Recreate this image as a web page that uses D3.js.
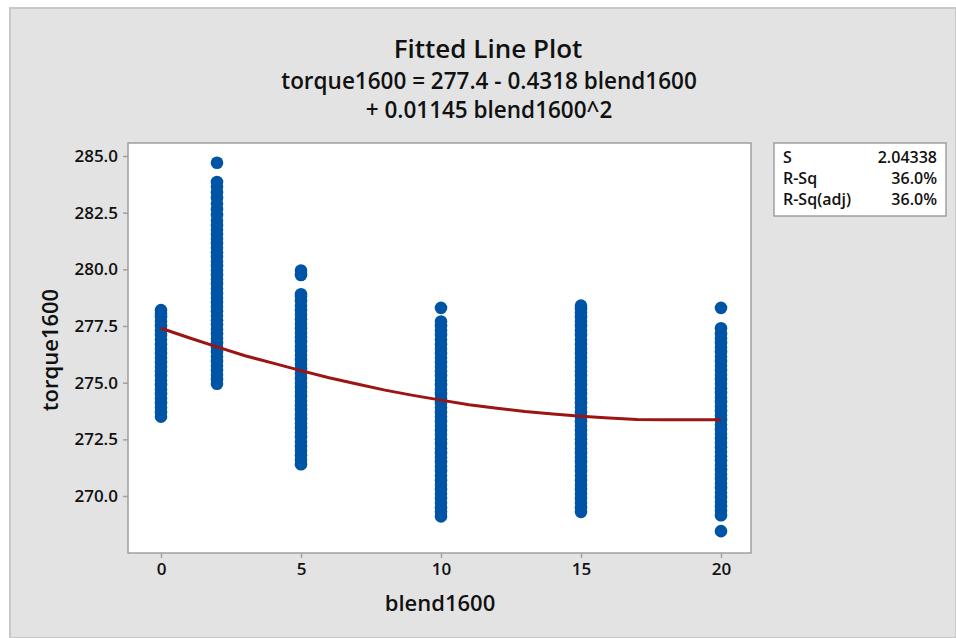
<!DOCTYPE html>
<html>
<head>
<meta charset="utf-8">
<script src="https://cdn.jsdelivr.net/npm/d3@7"></script>
<style>
  html, body { margin: 0; padding: 0; background: #fff; }
  text { font-family: "Open Sans", "Noto Sans", sans-serif; fill: #111; }
</style>
</head>
<body>
<div id="chart"></div>
<script>
// blend levels and the torque readings seen in each column
const blendLevels = [0, 2, 5, 10, 15, 20];
const torqueAt0 = [273.5, 273.7, 273.9, 274.1, 274.3, 274.5, 274.7, 274.9, 275.1, 275.3, 275.5, 275.7, 275.9,
    276.1, 276.3, 276.5, 276.7, 276.9, 277.1, 277.3, 277.5, 277.7, 277.9, 278.05, 278.2];
const torqueAt2 = [274.95, 275.15, 275.35, 275.55, 275.75, 275.95, 276.15, 276.35, 276.55, 276.75, 276.95,
    277.15, 277.35, 277.55, 277.75, 277.95, 278.15, 278.35, 278.55, 278.75, 278.95, 279.15, 279.35, 279.55,
    279.75, 279.95, 280.15, 280.35, 280.55, 280.75, 280.95, 281.15, 281.35, 281.55, 281.75, 281.95, 282.15,
    282.4, 282.65, 282.9, 283.15, 283.4, 283.65, 283.85, 284.7];
const torqueAt5 = [271.4, 271.6, 271.8, 272.0, 272.2, 272.4, 272.6, 272.8, 273.0, 273.2, 273.4, 273.6, 273.8,
    274.0, 274.2, 274.4, 274.6, 274.8, 275.0, 275.2, 275.4, 275.6, 275.8, 276.0, 276.2, 276.4, 276.6, 276.8,
    277.0, 277.2, 277.4, 277.6, 277.8, 278.0, 278.2, 278.4, 278.6, 278.8, 278.9, 279.75, 279.95];
const torqueAt10 = [269.1, 269.3, 269.5, 269.7, 269.9, 270.1, 270.3, 270.5, 270.7, 270.9, 271.1, 271.3, 271.5,
    271.7, 271.9, 272.1, 272.3, 272.5, 272.7, 272.9, 273.1, 273.3, 273.5, 273.7, 273.9, 274.1, 274.3, 274.5,
    274.7, 274.9, 275.1, 275.3, 275.5, 275.7, 275.9, 276.1, 276.3, 276.5, 276.7, 276.9, 277.1, 277.3, 277.5,
    277.7, 278.3];
const torqueAt15 = [269.3, 269.5, 269.7, 269.9, 270.1, 270.3, 270.5, 270.7, 270.9, 271.1, 271.3, 271.5, 271.7,
    271.9, 272.1, 272.3, 272.5, 272.7, 272.9, 273.1, 273.3, 273.5, 273.7, 273.9, 274.1, 274.3, 274.5, 274.7,
    274.9, 275.1, 275.3, 275.5, 275.7, 275.9, 276.1, 276.3, 276.5, 276.7, 276.9, 277.1, 277.3, 277.5, 277.7,
    277.9, 278.1, 278.25, 278.4];
const torqueAt20 = [268.45, 269.15, 269.35, 269.55, 269.75, 269.95, 270.15, 270.35, 270.55, 270.75, 270.95,
    271.15, 271.35, 271.55, 271.75, 271.95, 272.15, 272.35, 272.55, 272.75, 272.95, 273.15, 273.35, 273.55,
    273.75, 273.95, 274.15, 274.35, 274.55, 274.75, 274.95, 275.15, 275.35, 275.55, 275.75, 275.95, 276.15,
    276.35, 276.55, 276.75, 276.95, 277.15, 277.4, 278.3];
const torqueColumns = [torqueAt0, torqueAt2, torqueAt5, torqueAt10, torqueAt15, torqueAt20];

// fitted curve
const fitBlend = [0, 1, 2, 3, 4, 5, 6, 7, 8, 9, 10, 11, 12, 13, 14, 15, 16, 17, 18, 19, 20];
const fitTorque = [277.4, 276.98, 276.58, 276.19, 275.86, 275.53, 275.22, 274.94, 274.67, 274.44, 274.23,
    274.03, 273.87, 273.73, 273.62, 273.52, 273.44, 273.38, 273.36, 273.36, 273.36];

const xTicks = [0, 5, 10, 15, 20];
const yTicks = [270.0, 272.5, 275.0, 277.5, 280.0, 282.5, 285.0];
const statLabels = ["S", "R-Sq", "R-Sq(adj)"];
const statValues = ["2.04338", "36.0%", "36.0%"];

const width = 956;
const height = 638;
const plot = { left: 128, right: 751, top: 143, bottom: 553 };

const svg = d3.select("#chart").append("svg")
    .attr("width", width)
    .attr("height", height);

// grey panel with a thin darker edge
svg.append("rect")
    .attr("x", 10).attr("y", 8)
    .attr("width", width - 10).attr("height", height - 8)
    .attr("fill", "#e3e3e3")
    .attr("stroke", "#c8c8c8")
    .attr("stroke-width", 2);

const xScale = d3.scaleLinear()
    .domain([0, 20])
    .range([161, 721]);

const yScale = d3.scaleLinear()
    .domain([270, 285])
    .range([496, 156]);

svg.append("rect")
    .attr("x", plot.left).attr("y", plot.top)
    .attr("width", plot.right - plot.left).attr("height", plot.bottom - plot.top)
    .attr("fill", "#fff")
    .attr("stroke", "#a0a0a0")
    .attr("stroke-width", 1.5);

const xAxis = svg.append("g")
    .attr("transform", `translate(0,${plot.bottom})`)
    .call(d3.axisBottom(xScale).tickValues(xTicks).tickSize(5).tickPadding(5).tickFormat(d3.format("d")));
const yAxis = svg.append("g")
    .attr("transform", `translate(${plot.left},0)`)
    .call(d3.axisLeft(yScale).tickValues(yTicks).tickSize(5).tickPadding(5).tickFormat(d3.format(".1f")));

[xAxis, yAxis].forEach((g) => {
    g.select(".domain").remove();
    g.selectAll(".tick line").attr("stroke", "#a0a0a0").attr("stroke-width", 1.5);
    g.selectAll(".tick text")
        .attr("font-size", 17)
        .attr("font-weight", 600)
        .attr("fill", "#111")
        .style("font-family", "'Open Sans', sans-serif");
});

// scatter points
const points = [];
torqueColumns.forEach((col, i) => {
    col.forEach((v) => points.push({ x: blendLevels[i], y: v }));
});

svg.append("g")
    .selectAll("circle")
    .data(points)
    .join("circle")
    .attr("cx", (d) => xScale(d.x))
    .attr("cy", (d) => yScale(d.y))
    .attr("r", 6.3)
    .attr("fill", "#0054a6");

const line = d3.line()
    .x((d, i) => xScale(fitBlend[i]))
    .y((d) => yScale(d));

svg.append("path")
    .datum(fitTorque)
    .attr("fill", "none")
    .attr("stroke", "#9c1414")
    .attr("stroke-width", 3)
    .attr("d", line);

// titles
svg.append("text")
    .attr("x", 488).attr("y", 58)
    .attr("text-anchor", "middle")
    .attr("font-size", 26)
    .attr("font-weight", 600)
    .text("Fitted Line Plot");
svg.append("text")
    .attr("x", 489).attr("y", 89)
    .attr("text-anchor", "middle")
    .attr("font-size", 22.5)
    .attr("font-weight", 600)
    .text("torque1600 = 277.4 - 0.4318 blend1600");
svg.append("text")
    .attr("x", 489).attr("y", 118)
    .attr("text-anchor", "middle")
    .attr("font-size", 22.5)
    .attr("font-weight", 600)
    .text("+ 0.01145 blend1600^2");

svg.append("text")
    .attr("x", 440).attr("y", 611)
    .attr("text-anchor", "middle")
    .attr("font-size", 22)
    .attr("font-weight", 600)
    .text("blend1600");
svg.append("text")
    .attr("transform", "translate(58,350) rotate(-90)")
    .attr("text-anchor", "middle")
    .attr("font-size", 22)
    .attr("font-weight", 600)
    .text("torque1600");

// summary box
const box = svg.append("g").attr("transform", "translate(774,143)");
box.append("rect")
    .attr("width", 172).attr("height", 73)
    .attr("fill", "#fff")
    .attr("stroke", "#a0a0a0")
    .attr("stroke-width", 1.5);
statLabels.forEach((s, i) => {
    box.append("text")
        .attr("x", 9).attr("y", 20 + i * 21)
        .attr("font-size", 16)
        .attr("font-weight", 600)
        .text(s);
    box.append("text")
        .attr("x", 163).attr("y", 20 + i * 21)
        .attr("text-anchor", "end")
        .attr("font-size", 16)
        .attr("font-weight", 600)
        .text(statValues[i]);
});
</script>
</body>
</html>
